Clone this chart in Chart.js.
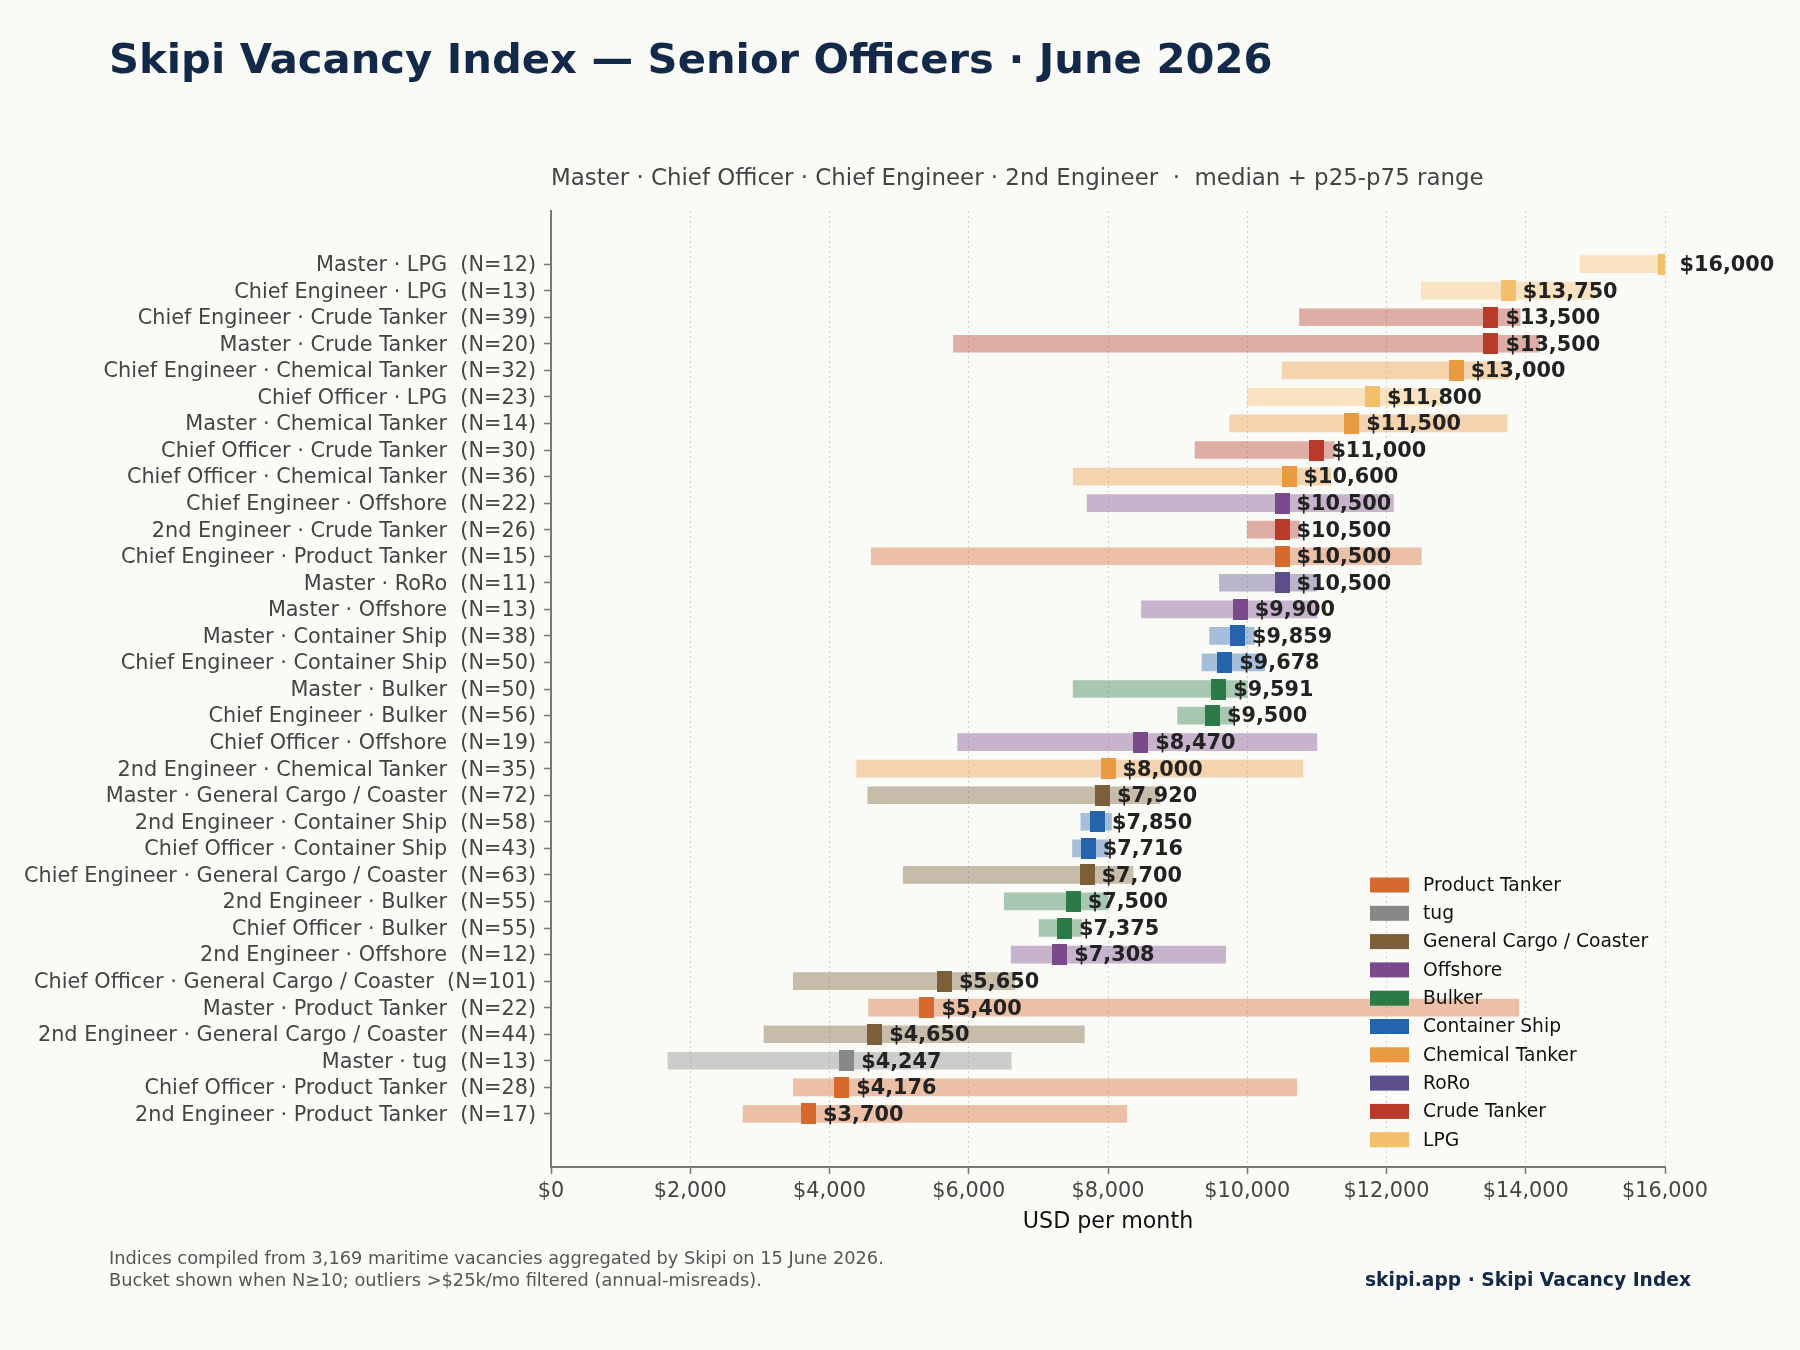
<!DOCTYPE html>
<html>
<head>
<meta charset="utf-8">
<title>Skipi Vacancy Index — Senior Officers · June 2026</title>
<script src="https://cdn.jsdelivr.net/npm/chart.js@4.4.1/dist/chart.umd.min.js"></script>
<style>
  html, body { margin: 0; padding: 0; background: #fafaf7; }
  #wrap { width: 1800px; height: 1350px; }
</style>
</head>
<body>
<div id="wrap"><canvas id="chart" width="1800" height="1350"></canvas></div>
<script>
// Rows, top to bottom
const rowLabels = [
  'Master · LPG  (N=12)',
  'Chief Engineer · LPG  (N=13)',
  'Chief Engineer · Crude Tanker  (N=39)',
  'Master · Crude Tanker  (N=20)',
  'Chief Engineer · Chemical Tanker  (N=32)',
  'Chief Officer · LPG  (N=23)',
  'Master · Chemical Tanker  (N=14)',
  'Chief Officer · Crude Tanker  (N=30)',
  'Chief Officer · Chemical Tanker  (N=36)',
  'Chief Engineer · Offshore  (N=22)',
  '2nd Engineer · Crude Tanker  (N=26)',
  'Chief Engineer · Product Tanker  (N=15)',
  'Master · RoRo  (N=11)',
  'Master · Offshore  (N=13)',
  'Master · Container Ship  (N=38)',
  'Chief Engineer · Container Ship  (N=50)',
  'Master · Bulker  (N=50)',
  'Chief Engineer · Bulker  (N=56)',
  'Chief Officer · Offshore  (N=19)',
  '2nd Engineer · Chemical Tanker  (N=35)',
  'Master · General Cargo / Coaster  (N=72)',
  '2nd Engineer · Container Ship  (N=58)',
  'Chief Officer · Container Ship  (N=43)',
  'Chief Engineer · General Cargo / Coaster  (N=63)',
  '2nd Engineer · Bulker  (N=55)',
  'Chief Officer · Bulker  (N=55)',
  '2nd Engineer · Offshore  (N=12)',
  'Chief Officer · General Cargo / Coaster  (N=101)',
  'Master · Product Tanker  (N=22)',
  '2nd Engineer · General Cargo / Coaster  (N=44)',
  'Master · tug  (N=13)',
  'Chief Officer · Product Tanker  (N=28)',
  '2nd Engineer · Product Tanker  (N=17)'
];
const rowTypes = [
  'LPG', 'LPG', 'Crude Tanker', 'Crude Tanker', 'Chemical Tanker', 'LPG', 'Chemical Tanker',
  'Crude Tanker', 'Chemical Tanker', 'Offshore', 'Crude Tanker', 'Product Tanker', 'RoRo',
  'Offshore', 'Container Ship', 'Container Ship', 'Bulker', 'Bulker', 'Offshore',
  'Chemical Tanker', 'General Cargo / Coaster', 'Container Ship', 'Container Ship',
  'General Cargo / Coaster', 'Bulker', 'Bulker', 'Offshore', 'General Cargo / Coaster',
  'Product Tanker', 'General Cargo / Coaster', 'tug', 'Product Tanker', 'Product Tanker'
];
const p25 = [
  14780, 12500, 10750, 5780, 10500, 10000, 9750, 9250, 7500, 7700, 10000, 4600, 9600,
  8480, 9460, 9350, 7500, 9000, 5840, 4390, 4550, 7610, 7490, 5060, 6510, 7010, 6610,
  3480, 4560, 3060, 1680, 3480, 2760
];
const p75 = [
  16000, 15000, 13920, 14200, 13750, 12800, 13730, 11250, 11200, 12100, 10750, 12500, 11000,
  11000, 10100, 10250, 10000, 9800, 11000, 10800, 8740, 8050, 8000, 8360, 8000, 7620, 9690,
  6660, 13900, 7660, 6610, 10710, 8270
];
const medians = [
  16000, 13750, 13500, 13500, 13000, 11800, 11500, 11000, 10600, 10500, 10500, 10500, 10500,
  9900, 9859, 9678, 9591, 9500, 8470, 8000, 7920, 7850, 7716, 7700, 7500, 7375, 7308,
  5650, 5400, 4650, 4247, 4176, 3700
];
const xTicks = [0, 2000, 4000, 6000, 8000, 10000, 12000, 14000, 16000];
const legendOrder = [
  'Product Tanker', 'tug', 'General Cargo / Coaster', 'Offshore', 'Bulker',
  'Container Ship', 'Chemical Tanker', 'RoRo', 'Crude Tanker', 'LPG'
];
const typeColors = {
  'Product Tanker': '#d6692d',
  'tug': '#888888',
  'General Cargo / Coaster': '#7a5f38',
  'Offshore': '#7b4a8c',
  'Bulker': '#2b7a48',
  'Container Ship': '#2563ad',
  'Chemical Tanker': '#e89b40',
  'RoRo': '#5b4e8a',
  'Crude Tanker': '#b83a28',
  'LPG': '#f4bf6b'
};

const FONT = '"DejaVu Sans", sans-serif';
const NAVY = '#12294a';
const padRows = 2; // empty space above and below the rows

function hexA(hex, a) {
  const n = parseInt(hex.slice(1), 16);
  return `rgba(${n >> 16}, ${(n >> 8) & 255}, ${n & 255}, ${a})`;
}
function pad(arr, fill) {
  const p = new Array(padRows).fill(fill);
  return p.concat(arr, p);
}

// median marker images, one per vessel type
const markers = {};
Object.keys(typeColors).forEach(t => {
  const c = document.createElement('canvas');
  c.width = 15; c.height = 21;
  const g = c.getContext('2d');
  g.fillStyle = typeColors[t];
  g.fillRect(0, 0, 15, 21);
  markers[t] = c;
});

const allLabels = pad(rowLabels, '');
const allTypes = pad(rowTypes, null);
const ranges = pad(rowLabels.map((_, i) => [p25[i], p75[i]]), null);

const decor = {
  id: 'decor',
  beforeDraw(chart) {
    const c = chart.ctx;
    c.save();
    c.fillStyle = '#fafaf7';
    c.fillRect(0, 0, chart.width, chart.height);
    c.restore();
  },
  afterDatasetsDraw(chart) {
    const c = chart.ctx;
    const xs = chart.scales.x, ys = chart.scales.y;
    c.save();
    c.font = 'bold 20.8px ' + FONT;
    c.fillStyle = '#222';
    c.textBaseline = 'middle';
    c.textAlign = 'left';
    medians.forEach((m, i) => {
      c.fillText('$' + m.toLocaleString('en-US'), xs.getPixelForValue(m) + 14.5, ys.getPixelForValue(i + padRows) + 1.5);
    });
    c.restore();
  },
  afterDraw(chart) {
    const c = chart.ctx;
    c.save();
    c.textAlign = 'left';
    c.textBaseline = 'alphabetic';
    c.fillStyle = NAVY;
    c.font = 'bold 41.7px ' + FONT;
    c.fillText('Skipi Vacancy Index — Senior Officers · June 2026', 109, 73);

    c.fillStyle = '#444';
    c.font = '22.9px ' + FONT;
    c.fillText('Master · Chief Officer · Chief Engineer · 2nd Engineer  ·  median + p25-p75 range', 551, 185);

    c.fillStyle = '#555';
    c.font = '17.8px ' + FONT;
    c.fillText('Indices compiled from 3,169 maritime vacancies aggregated by Skipi on 15 June 2026.', 109, 1264);
    c.fillText('Bucket shown when N≥10; outliers >$25k/mo filtered (annual-misreads).', 109, 1286);

    c.fillStyle = NAVY;
    c.font = 'bold 18.7px ' + FONT;
    c.textAlign = 'right';
    c.fillText('skipi.app · Skipi Vacancy Index', 1691, 1286);

    // legend
    c.textAlign = 'left';
    c.textBaseline = 'middle';
    c.font = '18.7px ' + FONT;
    legendOrder.forEach((t, i) => {
      const y = 885 + i * 28.3;
      c.fillStyle = typeColors[t];
      c.fillRect(1370, y - 7.5, 39, 15);
      c.fillStyle = '#111';
      c.fillText(t, 1423, y + 1);
    });
    c.restore();
  }
};

new Chart(document.getElementById('chart'), {
  type: 'bar',
  data: {
    labels: allLabels,
    datasets: [
      {
        type: 'line',
        label: 'median',
        indexAxis: 'y',
        data: pad(medians, null),
        showLine: false,
        pointStyle: ctx => markers[allTypes[ctx.dataIndex]] || 'rect',
        pointRadius: 10,
        pointHoverRadius: 10,
        clip: 0,
        order: 0
      },
      {
        label: 'p25-p75',
        data: ranges,
        backgroundColor: allTypes.map(t => t ? hexA(typeColors[t], 0.4) : 'transparent'),
        borderWidth: 0,
        borderSkipped: false,
        barThickness: 17,
        order: 1
      }
    ]
  },
  options: {
    indexAxis: 'y',
    responsive: false,
    animation: false,
    layout: { padding: { left: 0, right: 135, top: 211, bottom: 114.5 } },
    plugins: {
      legend: { display: false },
      tooltip: { enabled: false },
      title: { display: false }
    },
    scales: {
      x: {
        type: 'linear',
        position: 'bottom',
        min: 0,
        max: 16000,
        afterBuildTicks: s => { s.ticks = xTicks.map(v => ({ value: v })); },
        afterFit: s => { s.height = 68.5; },
        ticks: {
          color: '#444',
          font: { family: FONT, size: 20.8 },
          padding: 5,
          maxRotation: 0,
          callback: v => '$' + Number(v).toLocaleString('en-US')
        },
        grid: {
          color: '#cfcfcf',
          lineWidth: 1,
          drawOnChartArea: true,
          tickLength: 7,
          tickWidth: 1.5,
          tickColor: '#777'
        },
        border: { display: true, color: '#777', width: 2, dash: [2, 3] },
        title: {
          display: true,
          text: 'USD per month',
          color: '#111',
          font: { family: FONT, size: 22.2 },
          padding: 0
        }
      },
      y: {
        type: 'category',
        offset: false,
        afterFit: s => { s.width = 551; },
        ticks: {
          autoSkip: false,
          color: '#444',
          font: { family: FONT, size: 20.8 },
          padding: 8,
          labelOffset: 1.5
        },
        grid: {
          display: true,
          offset: false,
          drawOnChartArea: false,
          tickLength: 7,
          tickWidth: 1.5,
          tickColor: c => (c.tick && c.tick.label) ? '#777' : 'rgba(0,0,0,0)'
        },
        border: { display: true, color: '#777', width: 2 }
      }
    }
  },
  plugins: [decor]
});
</script>
</body>
</html>
